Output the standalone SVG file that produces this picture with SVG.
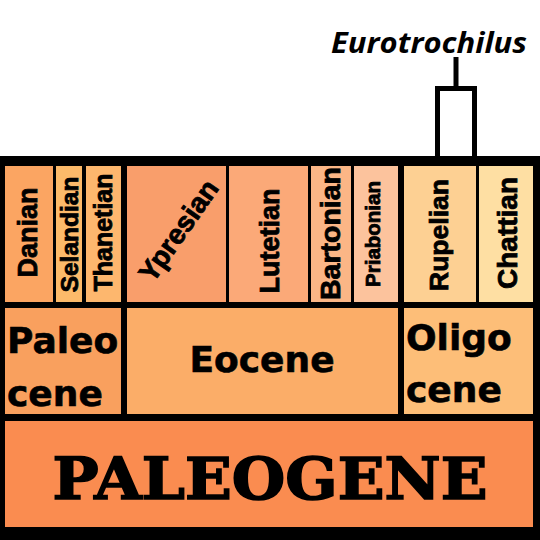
<svg xmlns="http://www.w3.org/2000/svg" width="540" height="540" viewBox="0 0 540 540">
<style>
.age{font-family:"Liberation Sans",Arial,sans-serif;font-weight:bold;fill:#000;stroke:#000;stroke-width:0.8;text-anchor:middle}
.ep{font-family:"DejaVu Sans",Verdana,sans-serif;font-weight:bold;font-size:36px;fill:#000;stroke:#000;stroke-width:0.6}
.per{font-family:"DejaVu Serif",serif;font-weight:bold;font-size:58px;fill:#000;stroke:#000;stroke-width:1.6;text-anchor:middle}
.tax{font-family:"Open Sans","DejaVu Sans",sans-serif;font-weight:bold;font-style:italic;font-size:29px;fill:#000}
.br{fill:none;stroke:#000;stroke-width:5}
</style>
<rect width="540" height="540" fill="#fff"/>
<rect x="0" y="156" width="540" height="384" fill="#000"/>

<g id="danian"><rect x="5" y="166" width="48" height="136" fill="#FBA562"/>
<text class="age" font-size="27" transform="translate(37,232.5) rotate(-90)">Danian</text></g>
<g id="selandian"><rect x="56" y="166" width="26" height="136" fill="#FCBA6A"/>
<text class="age" font-size="24.5" transform="translate(78,234.5) rotate(-90)">Selandian</text></g>
<g id="thanetian"><rect x="86" y="166" width="35" height="136" fill="#FDB76E"/>
<text class="age" font-size="25" transform="translate(112,232.5) rotate(-90)">Thanetian</text></g>
<g id="ypresian"><rect x="127" y="166" width="99" height="136" fill="#F99E6B"/>
<text class="age" font-size="28" transform="translate(179,231) rotate(-55)" y="9">Ypresian</text></g>
<g id="lutetian"><rect x="229" y="166" width="79" height="136" fill="#FBA978"/>
<text class="age" font-size="27" transform="translate(278.5,241) rotate(-90)">Lutetian</text></g>
<g id="bartonian"><rect x="311" y="166" width="40" height="136" fill="#FBB686"/>
<text class="age" font-size="28.5" transform="translate(340,233.5) rotate(-90)">Bartonian</text></g>
<g id="priabonian"><rect x="354" y="166" width="44" height="136" fill="#FCC39D"/>
<text class="age" font-size="20.5" transform="translate(380,234) rotate(-90)">Priabonian</text></g>
<g id="rupelian"><rect x="404" y="166" width="72" height="136" fill="#FDD093"/>
<text class="age" font-size="26.5" transform="translate(448,235) rotate(-90)">Rupelian</text></g>
<g id="chattian"><rect x="479" y="166" width="54" height="136" fill="#FEDFA3"/>
<text class="age" font-size="28" transform="translate(517,233) rotate(-90)">Chattian</text></g>

<g id="paleocene"><rect x="5" y="308" width="116" height="106" fill="#F9A05E"/>
<text class="ep" x="7" y="353">Paleo</text><text class="ep" x="7" y="406">cene</text></g>
<g id="eocene"><rect x="127" y="308" width="271" height="106" fill="#FBAD68"/>
<text class="ep" x="262" y="372" text-anchor="middle">Eocene</text></g>
<g id="oligocene"><rect x="404" y="308" width="129" height="106" fill="#FDBE78"/>
<text class="ep" x="406" y="350">Oligo</text><text class="ep" x="406" y="402">cene</text></g>

<g id="paleogene"><rect x="5" y="421" width="528" height="106" fill="#FA8C50"/>
<text class="per" x="270" y="499" textLength="435" lengthAdjust="spacingAndGlyphs">PALEOGENE</text></g>

<g id="connectors">
<path class="br" d="M437.5,158 V88.5 H474.5 V158"/>
<path class="br" d="M456,57 V88"/>
</g>
<g id="eurotrochilus"><text class="tax" x="331" y="53" textLength="196" lengthAdjust="spacingAndGlyphs">Eurotrochilus</text></g>
</svg>
